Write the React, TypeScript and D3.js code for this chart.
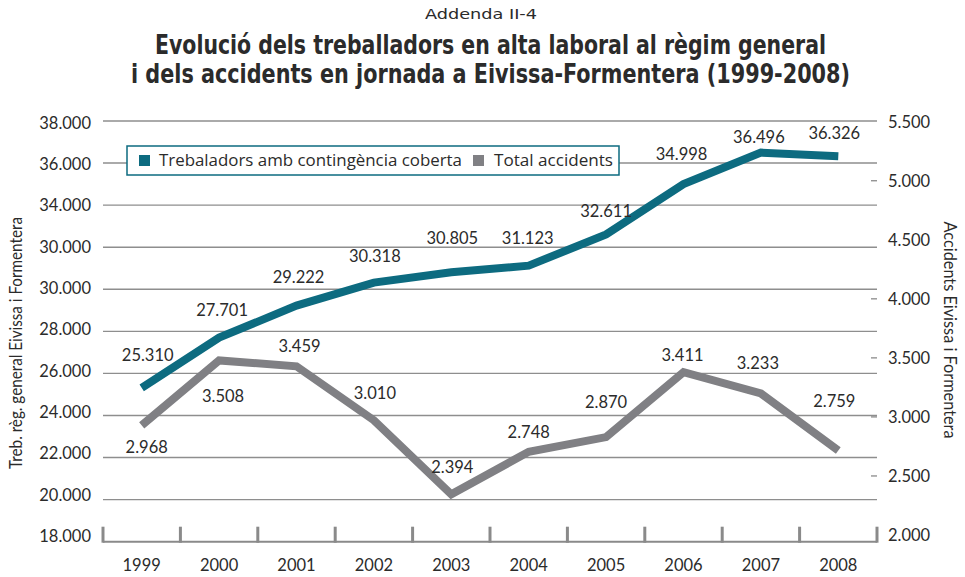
import React from "react";
import * as d3 from "d3";

const years = ["1999", "2000", "2001", "2002", "2003", "2004", "2005", "2006", "2007", "2008"];
const workers = [25310, 27701, 29222, 30318, 30805, 31123, 32611, 34998, 36496, 36326];
const accidents = [2968, 3508, 3459, 3010, 2394, 2748, 2870, 3411, 3233, 2759];
const leftTicks = [18000, 20000, 22000, 24000, 26000, 28000, 30000, 32000, 34000, 36000, 38000];
const leftTickLabels = ["18.000", "20.000", "22.000", "24.000", "26.000", "28.000", "30.000", "30.000", "34.000", "36.000", "38.000"];
const rightTicks = [2000, 2500, 3000, 3500, 4000, 4500, 5000, 5500];
const rightDashTicks = [2500, 3000, 3500, 4000, 5000];

// label layout (offsets from the point, in px)
const workerLabelDx = [6, 3, 2, 1, 1, -1, 0, -2, -2, -4];
const workerLabelDy = [-33, -28, -29, -27, -34, -28, -23, -30, -16, -23];
const accLabelDx = [5, 4, 3, 1, 1, 0, 0, -1, -3, -4];
const accLabelDy = [22, 36, -20, -27, -27, -20, -35, -17, -30, -49];

const fmt = (v: number) => d3.format(",")(v).replace(/,/g, ".");

const W = 965, H = 577;
const TEAL = "#0d6b80";
const GREY = "#808084";
const TXT = "#2b2b2b";
const NUMFONT = "Lato, 'Open Sans', sans-serif";

export default function App() {
  const x = d3.scaleBand<string>().domain(years).range([103, 877]);
  const yL = d3.scaleLinear().domain([18000, 38000]).range([541.7, 121]);
  const yR = d3.scaleLinear().domain([2000, 5500]).range([541.7, 121]);
  const yLLab = d3.scaleLinear().domain([18000, 38000]).range([536, 122.7]);
  const yRLab = d3.scaleLinear().domain([2000, 5500]).range([535, 121.7]);
  const cx = (y: string) => (x(y) as number) + x.bandwidth() / 2;

  const lineW = d3.line<number>().x((_, i) => cx(years[i])).y((d) => yL(d));
  const lineA = d3.line<number>().x((_, i) => cx(years[i])).y((d) => yR(d));

  const edges = [...years.map((y) => x(y) as number), 877];

  return (
    <svg width={W} height={H} style={{ position: "absolute", left: 0, top: 0, background: "#fff" }}>
      {/* titles */}
      <text x={481} y={19} textAnchor="middle" fontFamily="'DejaVu Sans Condensed', 'Open Sans', sans-serif" fontSize={14} fill={TXT} textLength={112} lengthAdjust="spacingAndGlyphs">Addenda II-4</text>
      <text x={490.5} y={54} textAnchor="middle" fontFamily="'DejaVu Sans Condensed', 'Open Sans', sans-serif" fontWeight="bold" fontSize={26} fill={TXT} textLength={671} lengthAdjust="spacingAndGlyphs">Evolució dels treballadors en alta laboral al règim general</text>
      <text x={490.5} y={83} textAnchor="middle" fontFamily="'DejaVu Sans Condensed', 'Open Sans', sans-serif" fontWeight="bold" fontSize={26} fill={TXT} textLength={719} lengthAdjust="spacingAndGlyphs">i dels accidents en jornada a Eivissa-Formentera (1999-2008)</text>

      {/* gridlines */}
      {leftTicks.slice(1).map((t) => (
        <line key={"g" + t} x1={103} x2={877} y1={yL(t)} y2={yL(t)} stroke="#8e8e8e" strokeWidth={1.4} />
      ))}

      {/* x axis */}
      <line x1={103} x2={877} y1={yL(18000)} y2={yL(18000)} stroke="#8a8a8a" strokeWidth={2} />
      {edges.map((e, i) => (
        <line key={"t" + i} x1={e} x2={e} y1={yL(18000) + 1} y2={yL(18000) - 15} stroke="#8a8a8a" strokeWidth={3} />
      ))}
      {years.map((y) => (
        <text key={"y" + y} x={cx(y)} y={571} textAnchor="middle" fontFamily={NUMFONT} fontSize={16.5} fill={TXT}>{y}</text>
      ))}

      {/* left axis labels */}
      {leftTicks.map((t, i) => (
        <text key={"l" + t} x={91} y={yLLab(t)} dy="0.36em" textAnchor="end" fontFamily={NUMFONT} fontSize={16.5} fill={TXT}>{leftTickLabels[i]}</text>
      ))}
      {/* right axis */}
      {rightDashTicks.map((t) => (
        <line key={"rd" + t} x1={871} x2={877} y1={yRLab(t)} y2={yRLab(t)} stroke="#8a8a8a" strokeWidth={1.3} />
      ))}
      {rightTicks.map((t) => (
        <text key={"r" + t} x={888} y={yRLab(t)} dy="0.36em" textAnchor="start" fontFamily={NUMFONT} fontSize={16.5} fill={TXT}>{fmt(t)}</text>
      ))}

      {/* axis titles */}
      <text transform={`translate(22,${343}) rotate(-90)`} textAnchor="middle" fontFamily={NUMFONT} fontSize={16.5} fill={TXT} textLength={252} lengthAdjust="spacingAndGlyphs">Treb. règ. general Eivissa i Formentera</text>
      <text transform={`translate(944,${330}) rotate(90)`} textAnchor="middle" fontFamily={NUMFONT} fontSize={16.5} fill={TXT} textLength={217} lengthAdjust="spacingAndGlyphs">Accidents Eivissa i Formentera</text>

      {/* lines */}
      <path d={lineA(accidents) as string} fill="none" stroke={GREY} strokeWidth={8} strokeLinejoin="miter" />
      <path d={lineW(workers) as string} fill="none" stroke={TEAL} strokeWidth={8} strokeLinejoin="miter" />

      {/* data labels */}
      {workers.map((v, i) => (
        <text key={"wl" + i} x={cx(years[i]) + workerLabelDx[i]} y={yL(v) + workerLabelDy[i]} dy="0.36em" textAnchor="middle" fontFamily={NUMFONT} fontSize={16.5} fill={TXT}>{fmt(v)}</text>
      ))}
      {accidents.map((v, i) => (
        <text key={"al" + i} x={cx(years[i]) + accLabelDx[i]} y={yR(v) + accLabelDy[i]} dy="0.36em" textAnchor="middle" fontFamily={NUMFONT} fontSize={16.5} fill={TXT}>{fmt(v)}</text>
      ))}

      {/* legend */}
      <rect x={127} y={146} width={492} height={29} fill="#fff" stroke={TEAL} strokeWidth={1.5} />
      <rect x={139} y={155} width={11} height={11} fill={TEAL} />
      <text x={159} y={166} fontFamily="'Open Sans', sans-serif" fontSize={16} fill={TXT} textLength={303} lengthAdjust="spacingAndGlyphs">Trebaladors amb contingència coberta</text>
      <rect x={473} y={155} width={11} height={11} fill={GREY} />
      <text x={494} y={166} fontFamily="'Open Sans', sans-serif" fontSize={16} fill={TXT} textLength={119} lengthAdjust="spacingAndGlyphs">Total accidents</text>
    </svg>
  );
}
